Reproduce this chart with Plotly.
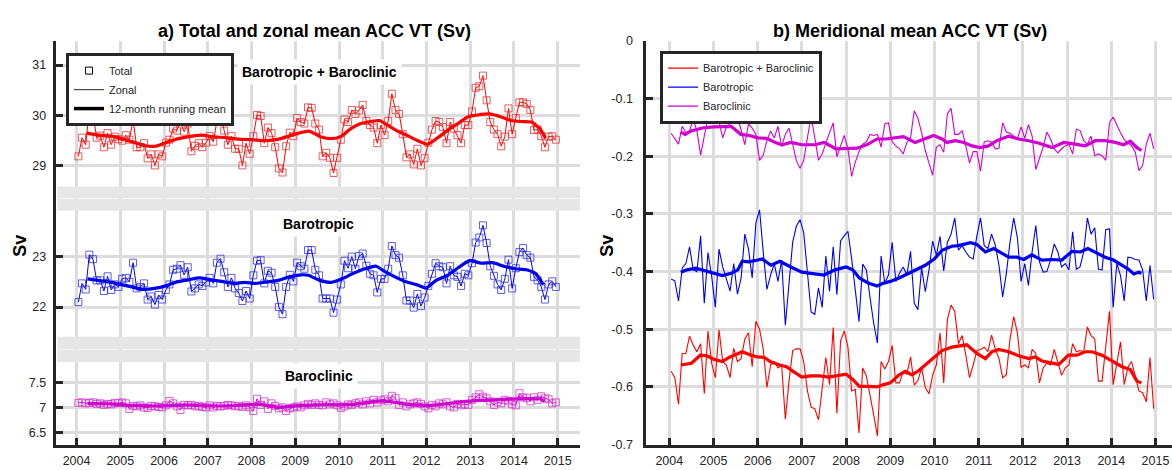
import plotly.graph_objects as go

W, H = 1172, 470
FONT = "Liberation Sans, Arial, Helvetica, sans-serif"


def px(x):
    return x / W


def py(y):
    return 1 - y / H


# ---------------- data ----------------
years = list(range(2004, 2016))
months = [2004 + (k + 0.5) / 12 for k in range(132)]

# a) Total / zonal mean ACC VT (Sv)
total_btbc = [
    29.19, 29.56, 29.42, 30.11, 30.03, 29.56, 29.60, 29.37, 29.65, 29.42, 29.58, 29.53,
    29.50, 29.61, 29.52, 29.92, 29.37, 29.37, 29.45, 29.15, 29.23, 29.01, 29.23, 29.19,
    29.46, 29.52, 29.74, 29.70, 29.87, 29.68, 29.84, 29.29, 29.40, 29.45, 29.37, 29.46,
    29.59, 29.48, 29.88, 30.06, 29.70, 29.42, 29.59, 29.34, 29.34, 29.01, 29.45, 29.24,
    29.59, 30.01, 29.99, 29.45, 29.76, 29.65, 29.37, 28.95, 28.87, 29.39, 29.66, 29.59,
    29.95, 29.87, 29.84, 30.16, 30.15, 29.84, 29.72, 29.19, 29.26, 29.16, 28.86, 29.16,
    29.52, 29.92, 29.87, 30.11, 30.03, 30.10, 30.21, 29.89, 29.81, 29.76, 29.45, 29.81,
    29.61, 29.89, 30.43, 30.11, 30.03, 29.63, 29.17, 29.23, 29.03, 29.34, 29.01, 29.16,
    29.46, 29.72, 29.89, 29.87, 29.77, 29.45, 29.87, 29.74, 29.61, 29.45, 29.81, 29.81,
    30.08, 30.55, 30.58, 30.79, 30.30, 29.87, 29.72, 29.63, 29.39, 29.58, 30.14, 29.63,
    29.95, 30.26, 30.26, 30.23, 30.11, 29.71, 29.72, 29.59, 29.37, 29.58, 29.59, 29.52,
]
total_bt = [
    22.10, 22.47, 22.35, 23.04, 22.95, 22.53, 22.53, 22.32, 22.61, 22.34, 22.45, 22.40,
    22.56, 22.58, 22.50, 22.88, 22.37, 22.40, 22.47, 22.15, 22.21, 22.05, 22.24, 22.15,
    22.34, 22.45, 22.74, 22.76, 22.83, 22.64, 22.79, 22.31, 22.37, 22.45, 22.42, 22.49,
    22.58, 22.47, 22.88, 22.96, 22.69, 22.40, 22.58, 22.37, 22.28, 22.12, 22.32, 22.17,
    22.63, 22.92, 22.93, 22.47, 22.72, 22.68, 22.40, 22.00, 21.86, 22.40, 22.64, 22.51,
    22.88, 22.81, 22.76, 23.13, 23.13, 22.74, 22.63, 22.17, 22.17, 22.17, 21.89, 22.15,
    22.45, 22.92, 22.77, 23.00, 22.76, 23.01, 23.06, 22.82, 22.66, 22.63, 22.29, 22.56,
    22.56, 22.76, 23.21, 23.03, 22.98, 22.63, 22.13, 22.13, 21.99, 22.26, 22.02, 22.19,
    22.42, 22.66, 22.87, 22.81, 22.79, 22.47, 22.81, 22.63, 22.60, 22.42, 22.66, 22.63,
    22.87, 23.28, 23.38, 23.62, 23.27, 22.81, 22.62, 22.45, 22.34, 22.56, 22.94, 22.37,
    22.77, 23.09, 23.17, 23.03, 22.98, 22.60, 22.53, 22.40, 22.15, 22.45, 22.51, 22.40,
]
total_bc = [
    7.09, 7.10, 7.08, 7.09, 7.10, 7.07, 7.08, 7.05, 7.07, 7.06, 7.09, 7.08,
    7.10, 7.08, 6.97, 7.03, 7.02, 7.04, 7.00, 6.99, 7.03, 7.02, 7.01, 7.00,
    7.04, 7.13, 7.08, 7.02, 6.95, 7.05, 7.04, 7.05, 7.02, 7.03, 7.01, 7.00,
    7.04, 7.00, 7.03, 7.02, 7.03, 7.05, 7.04, 7.02, 7.03, 7.01, 7.04, 7.00,
    6.93, 7.17, 7.05, 7.12, 6.97, 7.08, 7.03, 6.98, 7.00, 6.93, 6.98, 7.00,
    7.02, 7.00, 7.04, 7.07, 7.05, 7.08, 7.05, 7.04, 7.10, 7.06, 7.08, 7.04,
    6.99, 7.02, 7.06, 7.05, 7.08, 7.10, 7.06, 7.12, 7.08, 7.15, 7.10, 7.14,
    7.16, 7.12, 7.23, 7.18, 7.05, 7.10, 7.02, 7.06, 7.08, 7.10, 7.07, 7.02,
    6.98, 7.05, 7.02, 7.08, 7.06, 7.10, 7.02, 7.00, 7.07, 7.04, 7.06, 7.05,
    7.15, 7.20, 7.26, 7.21, 7.18, 7.12, 7.05, 7.10, 7.08, 7.15, 7.12, 7.06,
    7.04, 7.28, 7.20, 7.18, 7.12, 7.20, 7.15, 7.22, 7.18, 7.16, 7.08, 7.10,
]

# 12-month running means, panel a)
rm_btbc_t = [2004.23, 2004.5, 2004.8, 2005.03, 2005.34, 2005.57, 2005.8, 2006.03, 2006.33,
             2006.64, 2006.87, 2007.1, 2007.4, 2007.71, 2008.01, 2008.32, 2008.62, 2008.85,
             2009.08, 2009.31, 2009.58, 2009.81, 2010.04, 2010.27, 2010.5, 2010.73, 2010.92,
             2011.11, 2011.34, 2011.57, 2011.8, 2012.03, 2012.26, 2012.49, 2012.72, 2012.94,
             2013.17, 2013.44, 2013.71, 2013.94, 2014.17, 2014.4, 2014.59, 2014.72]
rm_btbc_v = [29.65, 29.61, 29.59, 29.54, 29.46, 29.40, 29.39, 29.46, 29.54,
             29.59, 29.61, 29.58, 29.56, 29.53, 29.52, 29.50, 29.53, 29.59,
             29.65, 29.69, 29.58, 29.54, 29.58, 29.74, 29.84, 29.88, 29.90,
             29.81, 29.69, 29.60, 29.50, 29.43, 29.56, 29.71, 29.84, 29.97,
             30.01, 30.03, 29.97, 29.90, 29.88, 29.87, 29.74, 29.55]
rm_bt_t = [2004.25, 2004.49, 2004.75, 2005.0, 2005.26, 2005.52, 2005.78, 2006.04, 2006.29,
           2006.55, 2006.81, 2007.07, 2007.32, 2007.58, 2007.84, 2008.1, 2008.36, 2008.61,
           2008.87, 2009.13, 2009.3, 2009.56, 2009.82, 2010.07, 2010.33, 2010.59, 2010.85,
           2011.02, 2011.28, 2011.53, 2011.79, 2012.0, 2012.22, 2012.48, 2012.74, 2012.99,
           2013.25, 2013.51, 2013.77, 2014.03, 2014.28, 2014.5, 2014.67]
rm_bt_v = [22.56, 22.53, 22.50, 22.45, 22.40, 22.35, 22.37, 22.42, 22.50,
           22.54, 22.58, 22.54, 22.51, 22.47, 22.49, 22.47, 22.50, 22.53,
           22.60, 22.64, 22.63, 22.53, 22.49, 22.56, 22.67, 22.76, 22.81,
           22.72, 22.60, 22.50, 22.44, 22.38, 22.53, 22.63, 22.79, 22.92,
           22.87, 22.88, 22.81, 22.76, 22.74, 22.66, 22.44]
rm_bc_t = [2004.25, 2004.75, 2005.25, 2005.5, 2006.0, 2006.5, 2007.0, 2007.5, 2008.2,
           2008.6, 2009.0, 2009.5, 2010.3, 2011.0, 2011.6, 2012.1, 2012.9, 2013.5,
           2014.1, 2014.6, 2014.7]
rm_bc_v = [7.08, 7.07, 7.04, 7.03, 7.03, 7.05, 7.03, 7.03, 7.06,
           7.00, 7.03, 7.05, 7.06, 7.13, 7.06, 7.04, 7.12, 7.15,
           7.17, 7.17, 7.12]

# b) Meridional mean ACC VT (Sv)
mer_btbc = [
    -0.573, -0.584, -0.630, -0.542, -0.542, -0.512, -0.528, -0.539, -0.525, -0.612, -0.503, -0.559,
    -0.584, -0.501, -0.556, -0.562, -0.584, -0.533, -0.556, -0.551, -0.517, -0.506, -0.565, -0.486,
    -0.500, -0.534, -0.601, -0.562, -0.556, -0.567, -0.562, -0.656, -0.590, -0.537, -0.534, -0.534,
    -0.556, -0.607, -0.635, -0.638, -0.657, -0.606, -0.549, -0.596, -0.497, -0.646, -0.520, -0.503,
    -0.531, -0.607, -0.604, -0.680, -0.567, -0.581, -0.612, -0.649, -0.685, -0.556, -0.569, -0.556,
    -0.528, -0.593, -0.593, -0.573, -0.578, -0.548, -0.597, -0.589, -0.567, -0.601, -0.612, -0.579,
    -0.562, -0.506, -0.593, -0.483, -0.458, -0.469, -0.525, -0.511, -0.545, -0.584, -0.562, -0.537,
    -0.535, -0.531, -0.539, -0.510, -0.534, -0.551, -0.584, -0.579, -0.517, -0.478, -0.506, -0.566,
    -0.562, -0.567, -0.535, -0.542, -0.593, -0.567, -0.559, -0.562, -0.535, -0.559, -0.580, -0.567,
    -0.562, -0.525, -0.539, -0.537, -0.539, -0.496, -0.511, -0.517, -0.590, -0.590, -0.528, -0.469,
    -0.596, -0.562, -0.522, -0.596, -0.566, -0.556, -0.581, -0.607, -0.610, -0.626, -0.549, -0.638,
]
mer_bt = [
    -0.413, -0.416, -0.451, -0.394, -0.386, -0.357, -0.397, -0.400, -0.338, -0.455, -0.367, -0.408,
    -0.462, -0.361, -0.392, -0.414, -0.434, -0.386, -0.439, -0.411, -0.335, -0.361, -0.411, -0.316,
    -0.293, -0.366, -0.431, -0.406, -0.386, -0.417, -0.380, -0.493, -0.417, -0.349, -0.321, -0.310,
    -0.333, -0.406, -0.470, -0.474, -0.428, -0.462, -0.373, -0.434, -0.357, -0.440, -0.347, -0.338,
    -0.330, -0.378, -0.429, -0.487, -0.387, -0.397, -0.445, -0.490, -0.524, -0.373, -0.420, -0.406,
    -0.349, -0.417, -0.403, -0.392, -0.406, -0.365, -0.455, -0.466, -0.394, -0.435, -0.397, -0.347,
    -0.372, -0.339, -0.399, -0.349, -0.335, -0.307, -0.363, -0.355, -0.366, -0.375, -0.378, -0.338,
    -0.307, -0.355, -0.360, -0.335, -0.354, -0.389, -0.444, -0.403, -0.349, -0.307, -0.341, -0.417,
    -0.386, -0.424, -0.366, -0.320, -0.383, -0.401, -0.400, -0.380, -0.352, -0.366, -0.392, -0.386,
    -0.397, -0.331, -0.396, -0.392, -0.366, -0.307, -0.335, -0.324, -0.396, -0.397, -0.327, -0.326,
    -0.462, -0.386, -0.407, -0.451, -0.375, -0.376, -0.379, -0.380, -0.397, -0.451, -0.389, -0.448,
]
mer_bc = [
    -0.160, -0.169, -0.179, -0.148, -0.159, -0.156, -0.136, -0.156, -0.198, -0.165, -0.134, -0.142,
    -0.123, -0.140, -0.168, -0.149, -0.144, -0.134, -0.132, -0.154, -0.180, -0.144, -0.151, -0.162,
    -0.207, -0.198, -0.173, -0.156, -0.168, -0.148, -0.183, -0.162, -0.151, -0.179, -0.208, -0.221,
    -0.207, -0.168, -0.131, -0.168, -0.207, -0.196, -0.176, -0.159, -0.142, -0.201, -0.182, -0.164,
    -0.187, -0.235, -0.210, -0.192, -0.179, -0.175, -0.162, -0.164, -0.162, -0.184, -0.144, -0.142,
    -0.175, -0.182, -0.187, -0.196, -0.176, -0.168, -0.121, -0.134, -0.159, -0.190, -0.212, -0.233,
    -0.184, -0.180, -0.193, -0.126, -0.117, -0.162, -0.162, -0.156, -0.182, -0.212, -0.192, -0.192,
    -0.226, -0.175, -0.173, -0.175, -0.187, -0.186, -0.142, -0.158, -0.160, -0.165, -0.170, -0.149,
    -0.169, -0.145, -0.165, -0.223, -0.204, -0.184, -0.158, -0.170, -0.187, -0.194, -0.187, -0.182,
    -0.179, -0.196, -0.153, -0.155, -0.173, -0.179, -0.165, -0.199, -0.196, -0.199, -0.207, -0.142,
    -0.132, -0.147, -0.159, -0.171, -0.176, -0.182, -0.193, -0.225, -0.216, -0.179, -0.160, -0.187,
]

rm_mer_btbc_t = [2004.26, 2004.5, 2004.7, 2004.85, 2005.0, 2005.2, 2005.35, 2005.5, 2005.65,
                 2005.85, 2006.0, 2006.15, 2006.3, 2006.5, 2006.65, 2006.8, 2007.0, 2007.2,
                 2007.4, 2007.6, 2007.8, 2008.0, 2008.15, 2008.3, 2008.5, 2008.7, 2008.85,
                 2009.0, 2009.2, 2009.34, 2009.49, 2009.64, 2009.79, 2010.0, 2010.17, 2010.39,
                 2010.54, 2010.73, 2010.96, 2011.15, 2011.3, 2011.45, 2011.68, 2011.9, 2012.13,
                 2012.28, 2012.43, 2012.66, 2012.81, 2013.03, 2013.22, 2013.41, 2013.56, 2013.79,
                 2014.02, 2014.24, 2014.43, 2014.58, 2014.68]
rm_mer_btbc_v = [-0.562, -0.559, -0.545, -0.546, -0.552, -0.556, -0.549, -0.544, -0.539,
                 -0.545, -0.548, -0.549, -0.557, -0.562, -0.565, -0.573, -0.583, -0.581,
                 -0.581, -0.583, -0.581, -0.578, -0.587, -0.599, -0.599, -0.600, -0.596,
                 -0.593, -0.579, -0.573, -0.579, -0.572, -0.562, -0.548, -0.537, -0.531,
                 -0.529, -0.527, -0.542, -0.551, -0.539, -0.535, -0.539, -0.546, -0.551,
                 -0.548, -0.555, -0.559, -0.561, -0.545, -0.545, -0.539, -0.539, -0.545,
                 -0.556, -0.565, -0.570, -0.590, -0.593]
rm_mer_bt_t = [2004.26, 2004.4, 2004.6, 2005.0, 2005.2, 2005.4, 2005.55, 2005.65, 2005.8,
               2006.0, 2006.1, 2006.3, 2006.5, 2006.75, 2007.0, 2007.2, 2007.5, 2007.75,
               2008.0, 2008.15, 2008.3, 2008.5, 2008.7, 2008.85, 2009.0, 2009.2, 2009.41,
               2009.56, 2009.79, 2010.0, 2010.17, 2010.39, 2010.54, 2010.81, 2010.96, 2011.15,
               2011.34, 2011.52, 2011.68, 2011.86, 2012.02, 2012.2, 2012.43, 2012.66, 2012.88,
               2013.11, 2013.3, 2013.47, 2013.68, 2013.86, 2014.05, 2014.24, 2014.39, 2014.51,
               2014.62, 2014.68]
rm_mer_bt_v = [-0.401, -0.397, -0.394, -0.403, -0.407, -0.403, -0.397, -0.382, -0.383,
               -0.380, -0.378, -0.389, -0.382, -0.392, -0.401, -0.403, -0.406, -0.397,
               -0.392, -0.397, -0.411, -0.420, -0.425, -0.420, -0.417, -0.411, -0.403,
               -0.397, -0.389, -0.378, -0.363, -0.356, -0.355, -0.350, -0.353, -0.366,
               -0.360, -0.368, -0.375, -0.375, -0.379, -0.371, -0.380, -0.379, -0.380,
               -0.365, -0.366, -0.360, -0.368, -0.375, -0.380, -0.389, -0.396, -0.404,
               -0.401, -0.403]
rm_mer_bc_t = [2004.26, 2004.36, 2004.49, 2004.75, 2005.0, 2005.25, 2005.4, 2005.62, 2005.81,
               2006.0, 2006.2, 2006.4, 2006.55, 2006.75, 2007.0, 2007.3, 2007.5, 2007.77,
               2008.0, 2008.25, 2008.5, 2008.7, 2008.9, 2009.13, 2009.3, 2009.56, 2009.79,
               2009.98, 2010.17, 2010.28, 2010.47, 2010.66, 2010.85, 2011.03, 2011.22, 2011.41,
               2011.68, 2011.9, 2012.13, 2012.35, 2012.66, 2012.92, 2013.18, 2013.41, 2013.64,
               2013.86, 2014.09, 2014.28, 2014.43, 2014.58, 2014.68]
rm_mer_bc_v = [-0.158, -0.162, -0.156, -0.151, -0.149, -0.148, -0.148, -0.162, -0.164,
               -0.168, -0.169, -0.176, -0.180, -0.176, -0.180, -0.180, -0.176, -0.187,
               -0.186, -0.186, -0.179, -0.170, -0.170, -0.168, -0.166, -0.176, -0.170,
               -0.164, -0.170, -0.176, -0.173, -0.176, -0.182, -0.185, -0.182, -0.173,
               -0.165, -0.170, -0.173, -0.177, -0.185, -0.176, -0.179, -0.182, -0.173,
               -0.173, -0.176, -0.180, -0.174, -0.185, -0.190]

RED = "#ff0000"
BLUE = "#0000f0"
MAG = "#d000d0"
RED_M = "rgba(225,40,40,0.75)"
BLUE_M = "rgba(40,40,220,0.75)"
MAG_M = "rgba(205,40,205,0.75)"
AX = "#262626"
GRID = "#dcdcdc"
BAND = "#e6e6e6"

XA_RANGE = [2003.523, 2015.51]
XB_RANGE = [2003.482, 2015.373]

fig = go.Figure()

# ---------- panel a ----------
for yv, rm_t, rm_v, col, mcol, ya in [
    (total_btbc, rm_btbc_t, rm_btbc_v, RED, RED_M, "y"),
    (total_bt, rm_bt_t, rm_bt_v, BLUE, BLUE_M, "y2"),
    (total_bc, rm_bc_t, rm_bc_v, MAG, MAG_M, "y3"),
]:
    fig.add_trace(go.Scatter(
        x=months, y=yv, mode="lines+markers", xaxis="x", yaxis=ya,
        line=dict(color=col, width=1),
        marker=dict(symbol="square-open", size=7, color=mcol, line=dict(width=1)),
        showlegend=False, hoverinfo="skip"))
    fig.add_trace(go.Scatter(
        x=rm_t, y=rm_v, mode="lines", xaxis="x", yaxis=ya,
        line=dict(color=col, width=3.2, shape="spline", smoothing=0.6),
        showlegend=False, hoverinfo="skip"))

# legend entries panel a
fig.add_trace(go.Scatter(x=[None], y=[None], mode="markers", name="Total",
                         marker=dict(symbol="square-open", size=7, color="#000", line=dict(width=1)),
                         xaxis="x", yaxis="y", legend="legend"))
fig.add_trace(go.Scatter(x=[None], y=[None], mode="lines", name="Zonal",
                         line=dict(color="#444", width=1.2), xaxis="x", yaxis="y", legend="legend"))
fig.add_trace(go.Scatter(x=[None], y=[None], mode="lines", name="12-month running mean",
                         line=dict(color="#000", width=3.5), xaxis="x", yaxis="y", legend="legend"))

# ---------- panel b ----------
for yv, rm_t, rm_v, col, name in [
    (mer_btbc, rm_mer_btbc_t, rm_mer_btbc_v, RED, "Barotropic + Baroclinic"),
    (mer_bt, rm_mer_bt_t, rm_mer_bt_v, BLUE, "Barotropic"),
    (mer_bc, rm_mer_bc_t, rm_mer_bc_v, MAG, "Baroclinic"),
]:
    fig.add_trace(go.Scatter(
        x=months, y=yv, mode="lines", xaxis="x2", yaxis="y4", name=name,
        line=dict(color=col, width=1.1), legend="legend2", hoverinfo="skip"))
    fig.add_trace(go.Scatter(
        x=rm_t, y=rm_v, mode="lines", xaxis="x2", yaxis="y4",
        line=dict(color=col, width=3.2), showlegend=False, hoverinfo="skip"))

axis_common = dict(
    showline=True, linewidth=3, linecolor=AX,
    ticks="inside", ticklen=7, tickwidth=3, tickcolor=AX,
    showgrid=True, gridcolor=GRID, gridwidth=2.5, zeroline=False,
    tickfont=dict(size=12.5, color=AX, family=FONT),
)

# axis-break bands (start just right of the thick y-axis line)
bx0 = XA_RANGE[0] + 1.6 / 43.6
bands = [("y", 28.352, 28.592), ("y2", 23.91, 24.15), ("y2", 21.16, 21.41), ("y3", 7.898, 8.148)]
shapes = [dict(type="rect", xref="x", yref=ya, x0=bx0, x1=XA_RANGE[1], y0=b0, y1=b1,
               fillcolor=BAND, line=dict(width=0), layer="above") for ya, b0, b1 in bands]

fig.update_layout(
    width=W, height=H,
    margin=dict(l=0, r=0, t=0, b=0),
    paper_bgcolor="white", plot_bgcolor="white",
    font=dict(family=FONT, color=AX),
    xaxis=dict(domain=[px(55.7), px(580)], range=XA_RANGE, anchor="y3",
               tickvals=years, ticklabelstandoff=2, **axis_common),
    yaxis=dict(domain=[py(197.5), py(35)], range=[28.352, 31.477], anchor="x",
               tickvals=[29, 30, 31], ticklabelstandoff=4, **axis_common),
    yaxis2=dict(domain=[py(353), py(197.5)], range=[21.16, 24.15], anchor="x",
                tickvals=[22, 23], ticklabelstandoff=4, **axis_common),
    yaxis3=dict(domain=[py(451), py(353)], range=[6.263, 8.148], anchor="x",
                tickvals=[6.5, 7, 7.5], ticktext=["6.5", "7", "7.5"], ticklabelstandoff=4,
                **axis_common),
    xaxis2=dict(domain=[px(646.4), 1.0], range=XB_RANGE, anchor="y4",
                tickvals=years, ticklabelstandoff=2, **axis_common),
    yaxis4=dict(domain=[py(451), py(35)], range=[-0.7, 0], anchor="x2",
                tickvals=[-0.7, -0.6, -0.5, -0.4, -0.3, -0.2, -0.1, 0],
                ticktext=["-0.7", "-0.6", "-0.5", "-0.4", "-0.3", "-0.2", "-0.1", "0"],
                ticklabelstandoff=8, **axis_common),
    legend=dict(x=px(66), y=py(47.5), xanchor="left", yanchor="top",
                bgcolor="white", bordercolor=AX, borderwidth=3,
                font=dict(size=11, color=AX, family=FONT), tracegroupgap=0),
    legend2=dict(x=px(660), y=py(45), xanchor="left", yanchor="top",
                 bgcolor="white", bordercolor=AX, borderwidth=3,
                 font=dict(size=11, color=AX, family=FONT), tracegroupgap=0),
    shapes=shapes,
)

ann = [
    dict(text="<b>a) Total and zonal mean ACC VT (Sv)</b>", x=px(314), y=py(25),
         font=dict(size=18, color="#000")),
    dict(text="<b>b) Meridional mean ACC VT (Sv)</b>", x=px(909.5), y=py(25),
         font=dict(size=18, color="#000")),
    dict(text="<b>Sv</b>", x=px(20), y=py(246), textangle=-90, font=dict(size=18, color="#000")),
    dict(text="<b>Sv</b>", x=px(607), y=py(246), textangle=-90, font=dict(size=18, color="#000")),
    dict(text="<b>Barotropic + Baroclinic</b>", x=px(319), y=py(66.5), bgcolor="white",
         borderpad=4, font=dict(size=14, color="#000")),
    dict(text="<b>Barotropic</b>", x=px(318), y=py(224), bgcolor="white",
         borderpad=4, font=dict(size=14, color="#000")),
    dict(text="<b>Baroclinic</b>", x=px(319), y=py(380), bgcolor="white",
         borderpad=4, font=dict(size=14, color="#000")),
]
for a in ann:
    a.update(xref="paper", yref="paper", showarrow=False, xanchor="center", yanchor="middle")
    a["font"]["family"] = FONT
fig.update_layout(annotations=ann)

fig.write_html(
    "out.html",
    config={"displayModeBar": False},
    post_script="document.body.style.margin='0px';document.body.style.overflow='hidden';",
)
